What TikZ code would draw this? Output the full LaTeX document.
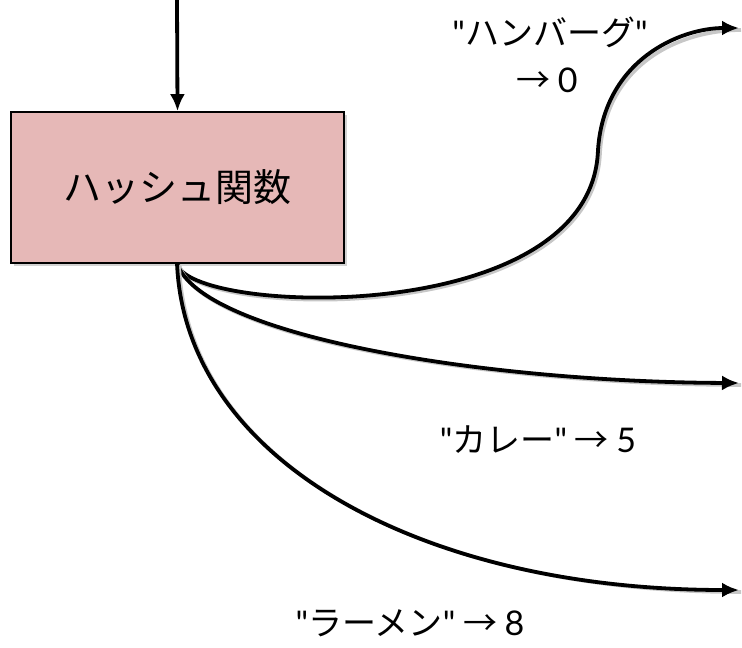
\documentclass[tikz,border=0pt]{standalone}
\usepackage{fontspec}
\setmainfont{Noto Sans CJK JP}
\newfontfamily\lat{Lato}
\usetikzlibrary{arrows.meta,shadows}
\definecolor{boxpink}{HTML}{E6B8B7}
\newcommand{\qq}{{\lat"}}
\tikzset{
  conn/.style={line width=3.8pt,-{Latex[length=17pt,width=15pt]},
    preaction={draw=black!22,line width=3.8pt,transform canvas={xshift=2pt,yshift=-2pt},-}},
  hashbox/.style={draw=black,line width=1.8pt,fill=boxpink,minimum width=333pt,minimum height=151pt,
    drop shadow={shadow xshift=2.5pt,shadow yshift=-2.5pt,fill=black!35},font=\fontsize{38}{44}\selectfont},
  lbl/.style={font=\fontsize{34}{40}\selectfont,align=center,inner sep=0pt}
}
\begin{document}
\begin{tikzpicture}[x=1pt,y=-1pt]
\useasboundingbox (0,0) rectangle (742,648);
\coordinate (top) at (177,0);
\node[hashbox] (hf) at (177.5,187.5) {ハッシュ関数};
\coordinate (o) at (177,263);
\coordinate (e1) at (739,28);
\coordinate (m1) at (598,150);
\coordinate (e2) at (739,383);
\coordinate (e3) at (739,590);
\draw[line width=3.8pt,-{Latex[length=17pt,width=15pt]}] (top) -- (hf.north);
\draw[conn] (o) .. controls (185,315) and (592,330) .. (m1) .. controls (604,60) and (680,28) .. (e1);
\draw[conn] (o) .. controls (200,335) and (480,382) .. (e2);
\draw[conn] (o) .. controls (185,460) and (420,590) .. (e3);
\node[lbl] (l1) at (550,32) {\qq ハンバーグ\qq};
\node[lbl] (l1b) at (547,80) {→ {\lat 0}};
\node[lbl] (l2) at (538,440) {\qq カレー\qq{} → {\lat 5}};
\node[lbl] (l3) at (410,623) {\qq ラーメン\qq{} → {\lat 8}};
\end{tikzpicture}
\end{document}
